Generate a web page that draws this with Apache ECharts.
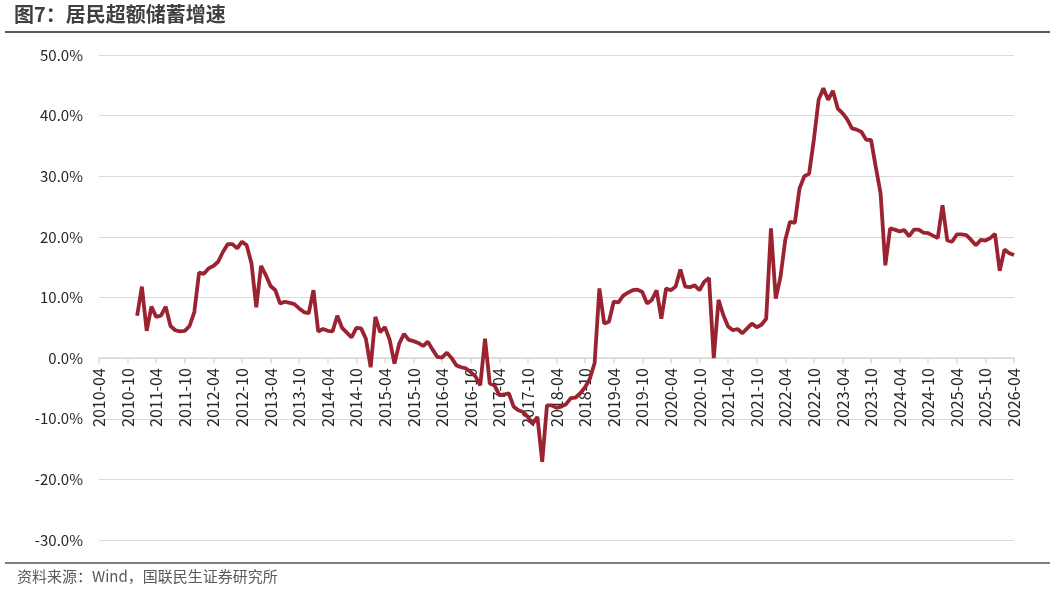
<!DOCTYPE html>
<html>
<head>
<meta charset="utf-8">
<title>居民超额储蓄增速</title>
<script src="https://cdn.jsdelivr.net/npm/echarts@6/dist/echarts.min.js"></script>
<style>
  html, body { margin: 0; padding: 0; background: #fff; }
  #main { width: 1055px; height: 592px; }
</style>
</head>
<body>
<div id="main"></div>
<script>
// 月度区间：2010-04 至 2026-04
var startYear = 2010, startMonth = 4;
var endYear = 2026, endMonth = 4;

// 居民超额储蓄增速（%），从 2010-04 起，每月一个值
var savingGrowth = [
  null, null, null, null, null, null, null, null, 7.0,                 // 2010-04 ~ 2010-12
  11.8, 4.5, 8.5, 6.8, 7.0, 8.5, 5.3, 4.6, 4.4, 4.5, 5.3, 7.6,         // 2011
  14.1, 13.9, 14.8, 15.2, 15.9, 17.5, 18.8, 18.8, 18.1, 19.2, 18.6, 15.6, // 2012
  8.4, 15.2, 13.7, 11.9, 11.2, 9.0, 9.3, 9.1, 8.9, 8.2, 7.6, 7.4,      // 2013
  11.2, 4.4, 4.8, 4.5, 4.4, 7.0, 5.0, 4.2, 3.4, 5.0, 4.9, 3.2,         // 2014
  -1.5, 6.8, 4.3, 5.1, 3.0, -0.9, 2.4, 4.0, 3.0, 2.8, 2.5, 2.0,        // 2015
  2.7, 1.4, 0.2, 0.1, 0.9, 0.0, -1.2, -1.5, -1.7, -2.3, -3.0, -4.5,    // 2016
  3.2, -4.2, -4.5, -6.1, -6.0, -5.8, -8.0, -8.6, -8.9, -9.7, -10.8, -9.7, // 2017
  -17.1, -7.8, -7.8, -8.2, -8.0, -7.6, -6.6, -6.5, -5.8, -4.8, -3.4, -0.8, // 2018
  11.5, 5.7, 6.0, 9.3, 9.2, 10.3, 10.8, 11.2, 11.3, 10.9, 9.0, 9.6,    // 2019
  11.2, 6.5, 11.5, 11.2, 11.8, 14.6, 11.8, 11.7, 12.0, 11.2, 12.6, 13.2, // 2020
  0.0, 9.6, 7.1, 5.2, 4.6, 4.8, 4.1, 4.9, 5.7, 5.1, 5.5, 6.5,          // 2021
  21.4, 9.8, 13.4, 19.5, 22.5, 22.3, 28.0, 30.0, 30.4, 36.0, 42.6, 44.5, // 2022
  42.6, 44.1, 41.2, 40.4, 39.4, 37.9, 37.7, 37.3, 36.0, 36.0, 31.5, 27.2, // 2023
  15.3, 21.4, 21.2, 20.9, 21.1, 20.1, 21.2, 21.2, 20.7, 20.6, 20.2, 19.8, // 2024
  25.2, 19.4, 19.2, 20.4, 20.4, 20.3, 19.5, 18.6, 19.5, 19.4, 19.8, 20.5, // 2025
  14.4, 17.9, 17.3, 17.0                                               // 2026-01 ~ 2026-04
];

var months = [];
for (var y = startYear, m = startMonth; y < endYear || (y === endYear && m <= endMonth); ) {
  months.push(y + '-' + (m < 10 ? '0' + m : m));
  m++;
  if (m > 12) { m = 1; y++; }
}

var chart = echarts.init(document.getElementById('main'), null, { renderer: 'canvas' });
var font = '"Noto Sans CJK SC", "Noto Sans", sans-serif';

// 坐标区
var gridTop = 55, gridBottom = 52, chartH = 592;
var yMin = -30, yMax = 50;
// 把 x 轴移到 0 线（向上偏移）
var zeroShift = (chartH - gridTop - gridBottom) * (0 - yMin) / (yMax - yMin);

var option = {
  backgroundColor: '#fff',
  animation: false,
  textStyle: { fontFamily: font },
  graphic: [
    {
      type: 'text', left: 14, top: 4,
      style: { text: '图7：居民超额储蓄增速', fontSize: 20, fontWeight: 'bold', fill: '#404040', fontFamily: font }
    },
    {
      type: 'line', shape: { x1: 5, y1: 32, x2: 1050, y2: 32 },
      style: { stroke: '#595959', lineWidth: 2 }
    },
    {
      type: 'line', shape: { x1: 5, y1: 563, x2: 1050, y2: 563 },
      style: { stroke: '#7f7f7f', lineWidth: 2 }
    },
    {
      type: 'text', left: 17, top: 569,
      style: { text: '资料来源：Wind，国联民生证券研究所', fontSize: 15, fill: '#595959', fontFamily: font }
    }
  ],
  grid: { left: 99, right: 41, top: gridTop, bottom: gridBottom, containLabel: false, outerBoundsMode: 'none' },
  xAxis: {
    type: 'category',
    data: months,
    boundaryGap: false,
    offset: -zeroShift,
    axisLine: { onZero: false, lineStyle: { color: '#d9d9d9', width: 1.5 } },
    axisTick: { interval: 5, length: 5, lineStyle: { color: '#d9d9d9', width: 1.5 } },
    axisLabel: { interval: 5, rotate: 90, fontSize: 16, color: '#262626', margin: 10, fontFamily: font },
    splitLine: { show: false }
  },
  yAxis: {
    type: 'value',
    min: yMin, max: yMax, interval: 10,
    axisLine: { show: false },
    axisTick: { show: false },
    axisLabel: {
      fontSize: 15, color: '#262626', margin: 16, fontFamily: font,
      formatter: function (v) { return v.toFixed(1) + '%'; }
    },
    splitLine: { lineStyle: { color: '#d9d9d9', width: 1 } }
  },
  series: [
    {
      name: '居民超额储蓄增速',
      type: 'line',
      data: savingGrowth,
      showSymbol: false,
      symbol: 'none',
      z: 5,
      lineStyle: { color: '#9b2230', width: 3.8 },
      itemStyle: { color: '#9b2230' }
    }
  ]
};

chart.setOption(option);
</script>
</body>
</html>
